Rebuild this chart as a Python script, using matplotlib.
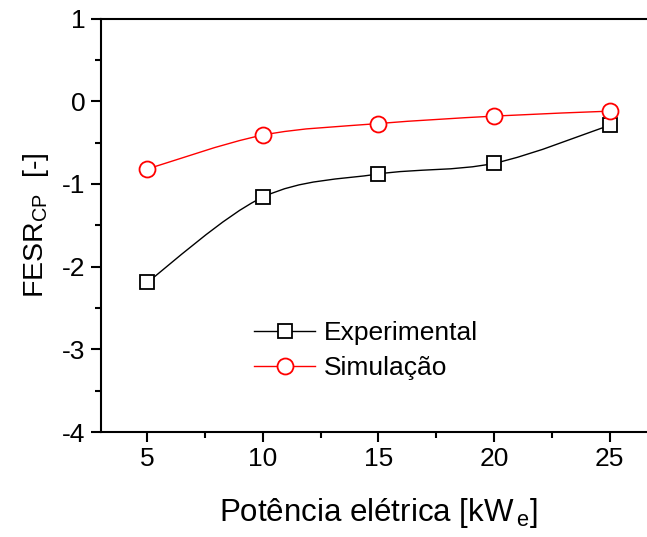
import matplotlib
matplotlib.use("Agg")
import matplotlib.pyplot as plt
import numpy as np
from matplotlib.path import Path
from matplotlib.patches import PathPatch
from matplotlib.ticker import MultipleLocator

plt.rcParams['font.family'] = ['Liberation Sans', 'DejaVu Sans']
plt.rcParams['mathtext.default'] = 'regular'
plt.rcParams['axes.unicode_minus'] = False

# Electric power output [kWe]
power = [5, 10, 15, 20, 25]
# FESR_CP values
fesr_experimental = [-2.19, -1.16, -0.88, -0.75, -0.29]
fesr_simulacao = [-0.82, -0.41, -0.27, -0.18, -0.12]

x_ticks = [5, 10, 15, 20, 25]
y_ticks = [-4, -3, -2, -1, 0, 1]


def smooth_path(xs, ys):
    """Catmull-Rom curve through the points, expressed as cubic Bezier segments."""
    pts = np.column_stack([xs, ys]).astype(float)
    ext = np.vstack([pts[0], pts, pts[-1]])
    verts = [tuple(pts[0])]
    codes = [Path.MOVETO]
    for i in range(1, len(ext) - 2):
        p0, p1, p2, p3 = ext[i - 1], ext[i], ext[i + 1], ext[i + 2]
        c1 = p1 + (p2 - p0) / 6.0
        c2 = p2 - (p3 - p1) / 6.0
        verts += [tuple(c1), tuple(c2), tuple(p2)]
        codes += [Path.CURVE4] * 3
    return Path(verts, codes)


fig = plt.figure(figsize=(6.47, 5.37), dpi=100)
ax = fig.add_axes([0.156, 0.1955, 0.858, 0.77])

for ys, color, marker, ms, label in [
    (fesr_experimental, 'black', 's', 9.8, 'Experimental'),
    (fesr_simulacao, 'red', 'o', 11.5, 'Simulação'),
]:
    ax.add_patch(PathPatch(smooth_path(power, ys), facecolor='none',
                           edgecolor=color, lw=1.0, zorder=2))
    ax.plot(power, ys, linestyle='none', marker=marker, ms=ms,
            mfc='white', mec=color, mew=1.3, zorder=3)
    ax.plot([], [], color=color, lw=1.0, marker=marker, ms=ms,
            mfc='white', mec=color, mew=1.3, label=label)

ax.set_xlim(3, 27)
ax.set_ylim(-4, 1)
ax.set_xticks(x_ticks)
ax.set_yticks(y_ticks)
ax.xaxis.set_minor_locator(MultipleLocator(2.5))
ax.yaxis.set_minor_locator(MultipleLocator(0.5))

ax.spines['right'].set_visible(False)
for s in ['left', 'bottom', 'top']:
    ax.spines[s].set_linewidth(1.5)

ax.tick_params(which='both', direction='out', top=False, right=False, width=1.5)
ax.tick_params(which='major', length=7, labelsize=19, pad=4)
ax.tick_params(which='minor', length=4)

ax.set_xlabel(r'Potência elétrica [kW$_{\,e}$]', fontsize=22.5, labelpad=18)
ax.set_ylabel(r'FESR$_{CP}$  [-]', fontsize=20.5, labelpad=8)

ax.legend(loc='center', bbox_to_anchor=(0.478, 0.197), frameon=False,
          fontsize=19, handlelength=2.3, handletextpad=0.34,
          labelspacing=0.42, borderpad=0.2)

fig.savefig('out.png', dpi=100)
